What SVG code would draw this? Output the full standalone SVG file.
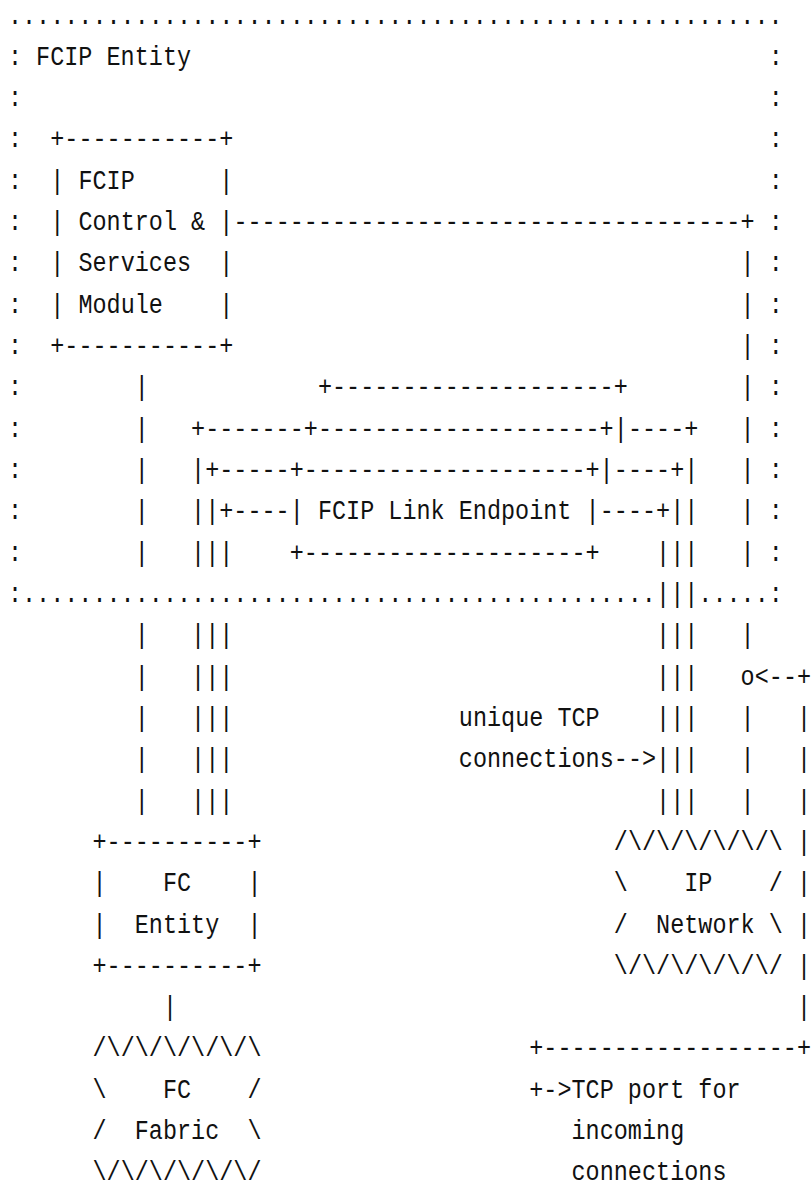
<svg xmlns="http://www.w3.org/2000/svg" width="812" height="1189" viewBox="0 0 812 1189" xml:space="preserve">
<style>
text{font-family:"Liberation Mono","DejaVu Sans Mono",monospace;font-size:28px;fill:#111;white-space:pre}
</style>
<rect width="812" height="1189" fill="#fff"/>
<g id="fcip-entity" transform="scale(0.83855,1)">
<text x="9.49" y="23.5">.......................................................</text>
<text x="9.49" y="64.82">: FCIP Entity</text>
<text x="916.83" y="64.82">:</text>
<text x="9.49" y="106.14">:</text><text x="916.83" y="106.14">:</text>
<text x="9.49" y="147.46">:</text><text x="916.83" y="147.46">:</text>
<text x="9.49" y="188.78">:</text><text x="916.83" y="188.78">:</text>
<text x="9.49" y="230.1">:</text><text x="916.83" y="230.1">:</text>
<text x="9.49" y="271.42">:</text><text x="916.83" y="271.42">:</text>
<text x="9.49" y="312.74">:</text><text x="916.83" y="312.74">:</text>
<text x="9.49" y="354.06">:</text><text x="916.83" y="354.06">:</text>
<text x="9.49" y="395.38">:</text><text x="916.83" y="395.38">:</text>
<text x="9.49" y="436.7">:</text><text x="916.83" y="436.7">:</text>
<text x="9.49" y="478.02">:</text><text x="916.83" y="478.02">:</text>
<text x="9.49" y="519.34">:</text><text x="916.83" y="519.34">:</text>
<text x="9.49" y="560.66">:</text><text x="916.83" y="560.66">:</text>
<text x="9.49" y="601.98">:.............................................</text>
<text x="832.82" y="601.98">.....:</text>
</g>
<g id="control-module" transform="scale(0.83855,1)">
<text x="59.90" y="147.46">+-----------+</text>
<text x="59.90" y="188.78">| FCIP      |</text>
<text x="59.90" y="230.1">| Control &amp; |</text>
<text x="59.90" y="271.42">| Services  |</text>
<text x="59.90" y="312.74">| Module    |</text>
<text x="59.90" y="354.06">+-----------+</text>
</g>
<g id="link-endpoint" transform="scale(0.83855,1)">
<text x="379.15" y="395.38">+--------------------+</text>
<text x="362.34" y="436.7">+--------------------+|</text>
<text x="345.54" y="478.02">+--------------------+|</text>
<text x="345.54" y="519.34">| FCIP Link Endpoint |</text>
<text x="345.54" y="560.66">+--------------------+</text>
</g>
<g id="fc-entity" transform="scale(0.83855,1)">
<text x="110.30" y="849.9">+----------+</text>
<text x="110.30" y="891.22">|    FC    |</text>
<text x="110.30" y="932.54">|  Entity  |</text>
<text x="110.30" y="973.86">+----------+</text>
</g>
<g id="fc-fabric" transform="scale(0.83855,1)">
<text x="110.30" y="1056.5">/\/\/\/\/\/\</text>
<text x="110.30" y="1097.82">\    FC    /</text>
<text x="110.30" y="1139.14">/  Fabric  \</text>
<text x="110.30" y="1180.46">\/\/\/\/\/\/</text>
</g>
<g id="ip-network" transform="scale(0.83855,1)">
<text x="732.00" y="849.9">/\/\/\/\/\/\</text>
<text x="732.00" y="891.22">\    IP    /</text>
<text x="732.00" y="932.54">/  Network \</text>
<text x="732.00" y="973.86">\/\/\/\/\/\/</text>
</g>
<g id="tcp-connections-label" transform="scale(0.83855,1)">
<text x="547.17" y="725.94">unique TCP</text>
<text x="547.17" y="767.26">connections</text>
</g>
<g id="tcp-port-label" transform="scale(0.83855,1)">
<text x="681.59" y="1097.82">TCP port for</text>
<text x="681.59" y="1139.14">incoming</text>
<text x="681.59" y="1180.46">connections</text>
</g>
<g id="connectors" transform="scale(0.83855,1)">
<text x="278.33" y="230.1">------------------------------------+</text>
<text x="883.23" y="271.42">|</text>
<text x="883.23" y="312.74">|</text>
<text x="883.23" y="354.06">|</text>
<text x="883.23" y="395.38">|</text>
<text x="883.23" y="436.7">|</text>
<text x="883.23" y="478.02">|</text>
<text x="883.23" y="519.34">|</text>
<text x="883.23" y="560.66">|</text>
<text x="883.23" y="643.3">|</text>
<text x="883.23" y="684.62">o&lt;--+</text>
<text x="883.23" y="725.94">|</text>
<text x="883.23" y="767.26">|</text>
<text x="883.23" y="808.58">|</text>
<text x="950.44" y="725.94">|</text>
<text x="950.44" y="767.26">|</text>
<text x="950.44" y="808.58">|</text>
<text x="950.44" y="849.9">|</text>
<text x="950.44" y="891.22">|</text>
<text x="950.44" y="932.54">|</text>
<text x="950.44" y="973.86">|</text>
<text x="950.44" y="1015.18">|</text>
<text x="631.19" y="1056.5">+------------------+</text>
<text x="631.19" y="1097.82">+-&gt;</text>
<text x="160.71" y="395.38">|</text>
<text x="160.71" y="436.7">|</text>
<text x="160.71" y="478.02">|</text>
<text x="160.71" y="519.34">|</text>
<text x="160.71" y="560.66">|</text>
<text x="160.71" y="643.3">|</text>
<text x="160.71" y="684.62">|</text>
<text x="160.71" y="725.94">|</text>
<text x="160.71" y="767.26">|</text>
<text x="160.71" y="808.58">|</text>
<text x="227.92" y="436.7">+-------</text>
<text x="227.92" y="478.02">|+-----</text>
<text x="227.92" y="519.34">||+----</text>
<text x="227.92" y="560.66">|||</text>
<text x="227.92" y="643.3">|||</text>
<text x="227.92" y="684.62">|||</text>
<text x="227.92" y="725.94">|||</text>
<text x="227.92" y="767.26">|||</text>
<text x="227.92" y="808.58">|||</text>
<text x="748.81" y="436.7">----+</text>
<text x="732.00" y="478.02">----+|</text>
<text x="715.20" y="519.34">----+||</text>
<text x="782.41" y="560.66">|||</text>
<text x="782.41" y="601.98">|||</text>
<text x="782.41" y="643.3">|||</text>
<text x="782.41" y="684.62">|||</text>
<text x="782.41" y="725.94">|||</text>
<text x="732.00" y="767.26">--&gt;|||</text>
<text x="782.41" y="808.58">|||</text>
<text x="194.32" y="1015.18">|</text>
</g>
</svg>
